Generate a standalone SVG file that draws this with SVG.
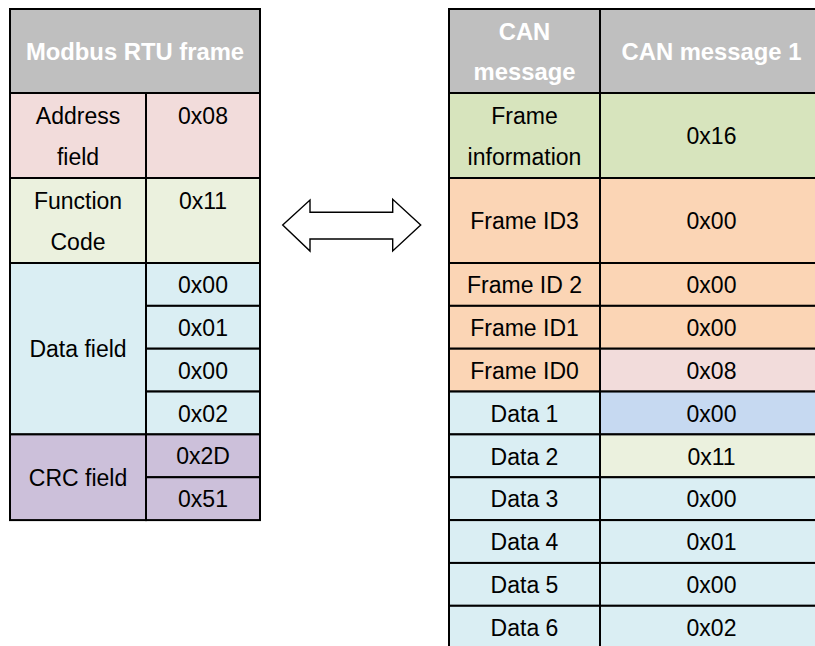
<svg xmlns="http://www.w3.org/2000/svg" width="815" height="646" viewBox="0 0 815 646">
  <style>
    .cell { stroke: #000; stroke-width: 2; }
    .hdr { fill: #BFBFBF; }
    .pink { fill: #F2DCDB; }
    .lgreen { fill: #EBF1DE; }
    .green { fill: #D7E4BD; }
    .blue { fill: #DAEEF3; }
    .mblue { fill: #C6D9F1; }
    .purple { fill: #CCC0DA; }
    .orange { fill: #FBD5B5; }
    text { font-family: "Liberation Sans", Arial, sans-serif; font-size: 23px; fill: #000; text-anchor: middle; }
    .ht { font-weight: bold; font-size: 23.8px; fill: #fff; }
    .arrow { fill: #fff; stroke: #000; stroke-width: 1.4; stroke-linejoin: miter; }
  </style>
  <rect width="815" height="646" fill="#fff"/>

  <!-- Modbus RTU frame table -->
  <g id="modbus-header">
    <rect class="cell hdr" x="10" y="9" width="250" height="84"/>
    <text class="ht" x="135" y="60">Modbus RTU frame</text>
  </g>
  <g id="modbus-address">
    <rect class="cell pink" x="10" y="93" width="136" height="85"/>
    <rect class="cell pink" x="146" y="93" width="114" height="85"/>
    <text x="78" y="124">Address</text>
    <text x="78" y="165">field</text>
    <text x="203" y="124">0x08</text>
  </g>
  <g id="modbus-function">
    <rect class="cell lgreen" x="10" y="178" width="136" height="85"/>
    <rect class="cell lgreen" x="146" y="178" width="114" height="85"/>
    <text x="78" y="208.5">Function</text>
    <text x="78" y="250">Code</text>
    <text x="203" y="208.5">0x11</text>
  </g>
  <g id="modbus-data">
    <rect class="cell blue" x="10" y="263" width="136" height="171.4"/>
    <rect class="cell blue" x="146" y="263" width="114" height="42.85"/>
    <rect class="cell blue" x="146" y="305.85" width="114" height="42.85"/>
    <rect class="cell blue" x="146" y="348.7" width="114" height="42.85"/>
    <rect class="cell blue" x="146" y="391.55" width="114" height="42.85"/>
    <text x="78" y="357">Data field</text>
    <text x="203" y="293">0x00</text>
    <text x="203" y="336">0x01</text>
    <text x="203" y="379">0x00</text>
    <text x="203" y="421.5">0x02</text>
  </g>
  <g id="modbus-crc">
    <rect class="cell purple" x="10" y="434.4" width="136" height="85.7"/>
    <rect class="cell purple" x="146" y="434.4" width="114" height="42.85"/>
    <rect class="cell purple" x="146" y="477.25" width="114" height="42.85"/>
    <text x="78" y="486">CRC field</text>
    <text x="203" y="464">0x2D</text>
    <text x="203" y="507">0x51</text>
  </g>

  <!-- two-way conversion arrow -->
  <g id="connectors">
    <path class="arrow" d="M282.7,225 L310,200 L310,212.3 L392.7,212.3 L392.7,199.3 L420.7,225 L392.7,251 L392.7,239 L310,239 L310,251 Z"/>
  </g>

  <!-- CAN message table -->
  <g id="can-header">
    <rect class="cell hdr" x="449" y="9" width="151" height="84"/>
    <rect class="cell hdr" x="600" y="9" width="223" height="84"/>
    <text class="ht" x="524.5" y="39.5">CAN</text>
    <text class="ht" x="524.5" y="79.5">message</text>
    <text class="ht" x="711.5" y="60">CAN message 1</text>
  </g>
  <g id="can-frame-info">
    <rect class="cell green" x="449" y="93" width="151" height="85"/>
    <rect class="cell green" x="600" y="93" width="223" height="85"/>
    <text x="524.5" y="123.5">Frame</text>
    <text x="524.5" y="164.5">information</text>
    <text x="711.5" y="144">0x16</text>
  </g>
  <g id="can-id3">
    <rect class="cell orange" x="449" y="178" width="151" height="85"/>
    <rect class="cell orange" x="600" y="178" width="223" height="85"/>
    <text x="524.5" y="228.5">Frame ID3</text>
    <text x="711.5" y="228.5">0x00</text>
  </g>
  <g id="can-id2">
    <rect class="cell orange" x="449" y="263" width="151" height="42.85"/>
    <rect class="cell orange" x="600" y="263" width="223" height="42.85"/>
    <text x="524.5" y="293">Frame ID 2</text>
    <text x="711.5" y="293">0x00</text>
  </g>
  <g id="can-id1">
    <rect class="cell orange" x="449" y="305.85" width="151" height="42.85"/>
    <rect class="cell orange" x="600" y="305.85" width="223" height="42.85"/>
    <text x="524.5" y="336">Frame ID1</text>
    <text x="711.5" y="336">0x00</text>
  </g>
  <g id="can-id0">
    <rect class="cell orange" x="449" y="348.7" width="151" height="42.85"/>
    <rect class="cell pink" x="600" y="348.7" width="223" height="42.85"/>
    <text x="524.5" y="379">Frame ID0</text>
    <text x="711.5" y="379">0x08</text>
  </g>
  <g id="can-data1">
    <rect class="cell blue" x="449" y="391.55" width="151" height="42.85"/>
    <rect class="cell mblue" x="600" y="391.55" width="223" height="42.85"/>
    <text x="524.5" y="421.5">Data 1</text>
    <text x="711.5" y="421.5">0x00</text>
  </g>
  <g id="can-data2">
    <rect class="cell blue" x="449" y="434.4" width="151" height="42.85"/>
    <rect class="cell lgreen" x="600" y="434.4" width="223" height="42.85"/>
    <text x="524.5" y="464.5">Data 2</text>
    <text x="711.5" y="464.5">0x11</text>
  </g>
  <g id="can-data3">
    <rect class="cell blue" x="449" y="477.25" width="151" height="42.85"/>
    <rect class="cell blue" x="600" y="477.25" width="223" height="42.85"/>
    <text x="524.5" y="507">Data 3</text>
    <text x="711.5" y="507">0x00</text>
  </g>
  <g id="can-data4">
    <rect class="cell blue" x="449" y="520.1" width="151" height="42.85"/>
    <rect class="cell blue" x="600" y="520.1" width="223" height="42.85"/>
    <text x="524.5" y="550">Data 4</text>
    <text x="711.5" y="550">0x01</text>
  </g>
  <g id="can-data5">
    <rect class="cell blue" x="449" y="562.95" width="151" height="42.85"/>
    <rect class="cell blue" x="600" y="562.95" width="223" height="42.85"/>
    <text x="524.5" y="593">Data 5</text>
    <text x="711.5" y="593">0x00</text>
  </g>
  <g id="can-data6">
    <rect class="cell blue" x="449" y="605.8" width="151" height="42.85"/>
    <rect class="cell blue" x="600" y="605.8" width="223" height="42.85"/>
    <text x="524.5" y="636">Data 6</text>
    <text x="711.5" y="636">0x02</text>
  </g>
</svg>
